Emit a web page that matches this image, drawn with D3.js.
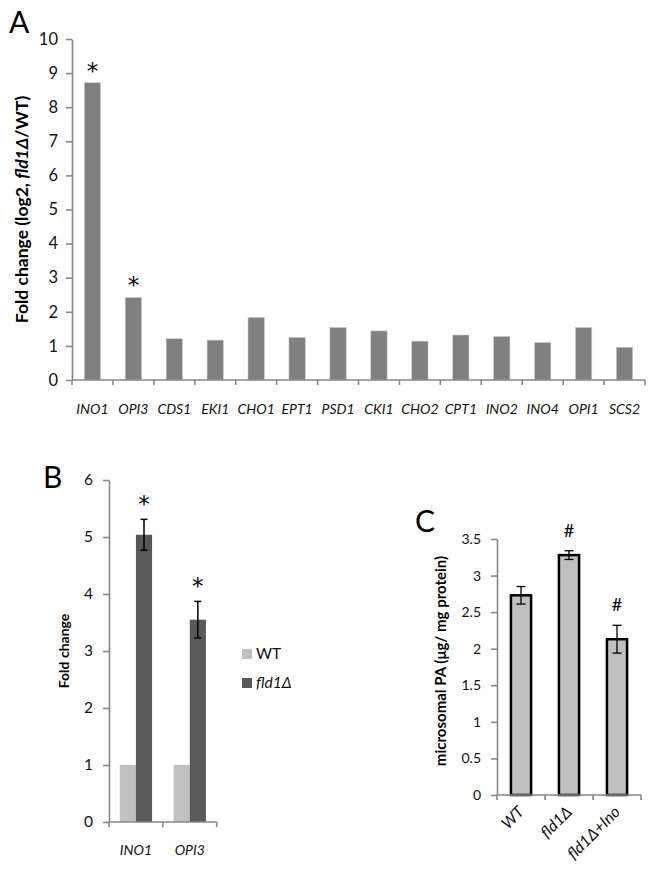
<!DOCTYPE html>
<html>
<head>
<meta charset="utf-8">
<script src="https://cdn.jsdelivr.net/npm/d3@7"></script>
<style>
  html, body { margin: 0; padding: 0; background: #fff; }
  svg { display: block; font-family: Lato, "Open Sans", sans-serif; }
</style>
</head>
<body>
<svg id="chart" width="656" height="881"></svg>
<script>
// ---------- Panel A data ----------
const genesA = ["INO1","OPI3","CDS1","EKI1","CHO1","EPT1","PSD1","CKI1","CHO2","CPT1","INO2","INO4","OPI1","SCS2"];
const foldLog2A = [8.72, 2.42, 1.21, 1.17, 1.84, 1.25, 1.54, 1.44, 1.14, 1.32, 1.28, 1.10, 1.54, 0.96];
const sigA = ["INO1", "OPI3"];
const ticksA = [0,1,2,3,4,5,6,7,8,9,10];

// ---------- Panel B data ----------
const genesB = ["INO1", "OPI3"];
const seriesB = ["WT", "fld1Δ"];
const wtB = [1, 1];
const fldB = [5.04, 3.55];
const fldErrB = [0.27, 0.32];
const ticksB = [0,1,2,3,4,5,6];

// ---------- Panel C data ----------
const strainsC = ["WT", "fld1Δ", "fld1Δ+Ino"];
const paC = [2.73, 3.28, 2.13];
const paErrC = [0.12, 0.06, 0.19];
const marksC = ["", "#", "#"];
const ticksC = [0, 0.5, 1, 1.5, 2, 2.5, 3, 3.5];

const svg = d3.select("#chart");
const AXIS = "#878787";
const TXT = "#111";
const STAR_FONT = "'DejaVu Sans', sans-serif";

function yAxis(g, scale, ticks, fmt, fontSize, pad) {
  const ax = d3.axisLeft(scale).tickValues(ticks).tickSize(6).tickSizeOuter(0).tickPadding(pad).tickFormat(fmt);
  g.call(ax);
  g.select(".domain").attr("stroke", AXIS).attr("stroke-width", 1.6);
  g.selectAll(".tick line").attr("stroke", AXIS).attr("stroke-width", 1.6);
  g.selectAll(".tick text").attr("fill", TXT).style("font-size", fontSize + "px").style("font-family", "Lato, sans-serif");
}

function xBaseline(g, band, yPix) {
  const r = band.range();
  g.append("line").attr("x1", r[0]).attr("x2", r[1]).attr("y1", yPix).attr("y2", yPix)
    .attr("stroke", AXIS).attr("stroke-width", 1.6);
  const edges = band.domain().map(d => band(d)).concat([r[1]]);
  g.selectAll("line.tk").data(edges).join("line").attr("class", "tk")
    .attr("x1", d => d).attr("x2", d => d).attr("y1", yPix).attr("y2", yPix + 5)
    .attr("stroke", AXIS).attr("stroke-width", 1.6);
}

// ================= Panel A =================
{
  const x = d3.scaleBand().domain(genesA).range([72, 645]).padding(0);
  const y = d3.scaleLinear().domain([0, 10]).range([380, 39]);
  const g = svg.append("g");
  const bw = x.bandwidth() * 0.4;

  g.selectAll("rect.bar").data(genesA).join("rect").attr("class", "bar")
    .attr("x", d => x(d) + (x.bandwidth() - bw) / 2)
    .attr("width", bw)
    .attr("y", (d, i) => y(foldLog2A[i]))
    .attr("height", (d, i) => y(0) - y(foldLog2A[i]))
    .attr("fill", "#808080").attr("stroke", "#d0d0d0").attr("stroke-width", 0.6);

  xBaseline(g, x, y(0));
  yAxis(g.append("g").attr("transform", "translate(72,0)"), y, ticksA, d3.format("d"), 16.5, 8);

  g.selectAll("text.xl").data(genesA).join("text").attr("class", "xl")
    .attr("x", d => x(d) + x.bandwidth() / 2).attr("y", 414)
    .attr("text-anchor", "middle").attr("font-style", "italic")
    .attr("font-size", 14).attr("fill", TXT).text(d => d);

  g.selectAll("text.sig").data(sigA).join("text").attr("class", "sig")
    .attr("x", d => x(d) + x.bandwidth() / 2)
    .attr("y", d => y(foldLog2A[genesA.indexOf(d)]) - 4)
    .attr("text-anchor", "middle").attr("font-size", 23).style("font-family", STAR_FONT).attr("fill", "#000").text("*");

  const t = g.append("text").attr("transform", `translate(28,${(y(0) + y(10)) / 2}) rotate(-90)`)
    .attr("text-anchor", "middle").attr("font-weight", "bold").attr("font-size", 17.5).attr("fill", "#000");
  t.append("tspan").text("Fold change (log2, ");
  t.append("tspan").attr("font-style", "italic").text("fld1Δ");
  t.append("tspan").text("/WT)");

  svg.append("text").attr("x", 9).attr("y", 33).attr("font-size", 30).attr("fill", "#000").text("A");
}

// ================= Panel B =================
{
  const x = d3.scaleBand().domain(genesB).range([109, 216.7]).padding(0);
  const xi = d3.scaleBand().domain(seriesB).range([x.bandwidth() * 0.2, x.bandwidth() * 0.8]).padding(0);
  const y = d3.scaleLinear().domain([0, 6]).range([822, 480]);
  const g = svg.append("g");
  const vals = [wtB, fldB];
  const colors = { "WT": "#c0c0c0", "fld1Δ": "#595959" };

  seriesB.forEach((s, si) => {
    g.selectAll(null).data(genesB).join("rect")
      .attr("x", d => x(d) + xi(s)).attr("width", xi.bandwidth())
      .attr("y", (d, i) => y(vals[si][i])).attr("height", (d, i) => y(0) - y(vals[si][i]))
      .attr("fill", colors[s]);
  });

  // error bars on fld1Δ
  const cx = d => x(d) + xi("fld1Δ") + xi.bandwidth() / 2;
  genesB.forEach((d, i) => {
    const hi = y(fldB[i] + fldErrB[i]), lo = y(fldB[i] - fldErrB[i]);
    g.append("line").attr("x1", cx(d)).attr("x2", cx(d)).attr("y1", hi).attr("y2", lo).attr("stroke", "#000").attr("stroke-width", 1.5);
    [hi, lo].forEach(v => g.append("line").attr("x1", cx(d) - 3.5).attr("x2", cx(d) + 3.5).attr("y1", v).attr("y2", v).attr("stroke", "#000").attr("stroke-width", 1.5));
    g.append("text").attr("x", cx(d)).attr("y", hi - 7).attr("text-anchor", "middle")
      .attr("font-size", 23).style("font-family", STAR_FONT).attr("fill", "#000").text("*");
  });

  xBaseline(g, x, y(0));
  yAxis(g.append("g").attr("transform", "translate(109,0)"), y, ticksB, d3.format("d"), 15.5, 10);

  g.selectAll("text.xl").data(genesB).join("text").attr("class", "xl")
    .attr("x", d => x(d) + x.bandwidth() / 2).attr("y", 855)
    .attr("text-anchor", "middle").attr("font-style", "italic")
    .attr("font-size", 14).attr("fill", TXT).text(d => d);

  g.append("text").attr("transform", `translate(69,${(y(0) + y(6)) / 2}) rotate(-90)`)
    .attr("text-anchor", "middle").attr("font-weight", "bold").attr("font-size", 14).attr("fill", "#000")
    .text("Fold change");

  // legend
  const lg = g.append("g");
  seriesB.forEach((s, i) => {
    const yy = 649 + i * 29;
    lg.append("rect").attr("x", 242).attr("y", yy).attr("width", 10).attr("height", 10).attr("fill", colors[s]);
    lg.append("text").attr("x", 256).attr("y", yy + 10).attr("font-size", 15.5).attr("fill", TXT)
      .attr("font-style", s === "WT" ? "normal" : "italic").text(s);
  });

  svg.append("text").attr("x", 43).attr("y", 488).attr("font-size", 30).attr("fill", "#000").text("B");
}

// ================= Panel C =================
{
  const x = d3.scaleBand().domain(strainsC).range([497, 641]).padding(0);
  const y = d3.scaleLinear().domain([0, 3.5]).range([795, 539]);
  const g = svg.append("g");
  const bw = x.bandwidth() * 0.42;
  const cx = d => x(d) + x.bandwidth() / 2;

  g.selectAll("rect.bar").data(strainsC).join("rect").attr("class", "bar")
    .attr("x", d => cx(d) - bw / 2).attr("width", bw)
    .attr("y", (d, i) => y(paC[i])).attr("height", (d, i) => y(0) - y(paC[i]))
    .attr("fill", "#bfbfbf").attr("stroke", "#000").attr("stroke-width", 2.5);

  strainsC.forEach((d, i) => {
    const hi = y(paC[i] + paErrC[i]), lo = y(paC[i] - paErrC[i]);
    g.append("line").attr("x1", cx(d)).attr("x2", cx(d)).attr("y1", hi).attr("y2", lo).attr("stroke", "#000").attr("stroke-width", 1.3);
    [hi, lo].forEach(v => g.append("line").attr("x1", cx(d) - 4.5).attr("x2", cx(d) + 4.5).attr("y1", v).attr("y2", v).attr("stroke", "#000").attr("stroke-width", 1.3));
    if (marksC[i]) g.append("text").attr("x", cx(d)).attr("y", hi - 14).attr("text-anchor", "middle")
      .attr("font-size", 18).attr("fill", "#000").text(marksC[i]);
  });

  xBaseline(g, x, y(0));
  yAxis(g.append("g").attr("transform", "translate(497,0)"), y, ticksC, d => String(d), 14, 10);

  g.selectAll("text.xl").data(strainsC).join("text").attr("class", "xl")
    .attr("transform", d => `translate(${cx(d) + 4},${813}) rotate(-45)`)
    .attr("text-anchor", "end").attr("font-style", "italic")
    .attr("font-size", 16).attr("fill", TXT).text(d => d);

  g.append("text").attr("transform", `translate(446,661) rotate(-90)`)
    .attr("text-anchor", "middle").attr("font-weight", "bold").attr("font-size", 15).attr("fill", "#000")
    .text("microsomal PA (μg/ mg protein)");

  svg.append("text").attr("x", 415).attr("y", 532).attr("font-size", 30).attr("fill", "#000").text("C");
}
</script>
</body>
</html>
